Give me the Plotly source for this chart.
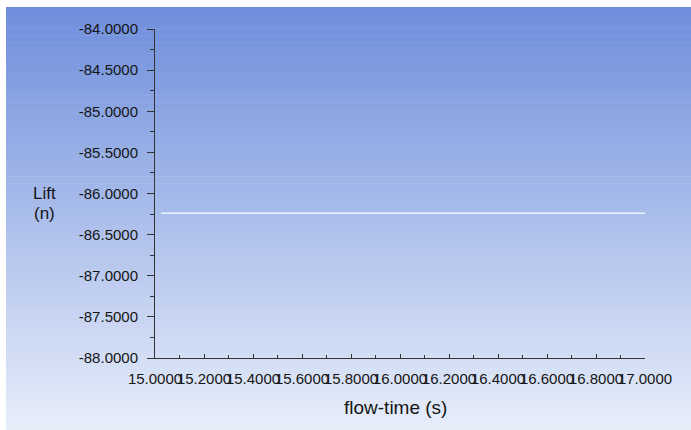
import plotly.graph_objects as go

# Data
flow_time = [15.025, 15.5, 16.0, 16.5, 17.0]
lift = [-86.24, -86.24, -86.24, -86.24, -86.24]
x_ticks = [15.0, 15.2, 15.4, 15.6, 15.8, 16.0, 16.2, 16.4, 16.6, 16.8, 17.0]
y_ticks = [-84.0, -84.5, -85.0, -85.5, -86.0, -86.5, -87.0, -87.5, -88.0]

W, H = 691, 430
L, R, T, B = 155, 46, 29, 72
pw, ph = W - L - R, H - T - B

def px2paper_x(p):
    return (p - L) / pw

def px2paper_y(p):
    return (H - B - p) / ph

# Gradient background (strips)
top = (110, 142, 220)
bot = (232, 238, 250)
y0p, y1p = 7, H
n = 120
shapes = []
for i in range(n):
    a = y0p + (y1p - y0p) * i / n
    b = y0p + (y1p - y0p) * (i + 1) / n + 0.6
    t = (i + 0.5) / n
    c = tuple(round(top[k] + (bot[k] - top[k]) * t) for k in range(3))
    shapes.append(dict(
        type="rect", xref="paper", yref="paper", layer="below",
        x0=px2paper_x(6), x1=px2paper_x(W + 2),
        y0=px2paper_y(min(b, H + 2)), y1=px2paper_y(a),
        fillcolor="rgb(%d,%d,%d)" % c, line=dict(width=0),
    ))

fig = go.Figure()
fig.add_trace(go.Scatter(
    x=flow_time, y=lift, mode="lines",
    line=dict(color="rgb(238,242,255)", width=1.5),
    showlegend=False, hoverinfo="skip",
))

font = dict(family="Liberation Sans, Arial, sans-serif", color="#151515")

fig.update_layout(
    width=W, height=H,
    margin=dict(l=L, r=R, t=T, b=B, pad=0),
    paper_bgcolor="white",
    plot_bgcolor="rgba(0,0,0,0)",
    shapes=shapes,
    font=dict(size=15, **font),
    showlegend=False,
    xaxis=dict(
        range=[14.99999, 17.00001],
        tickvals=x_ticks,
        ticktext=["%.4f" % v for v in x_ticks],
        tickangle=0,
        ticks="inside", ticklen=4, tickwidth=1, tickcolor="#333",
        showline=True, linecolor="#333", linewidth=1,
        showgrid=False, zeroline=False,
        minor=dict(dtick=0.1, tick0=15.0, ticks="inside", ticklen=3, tickcolor="#333", showgrid=False),
        tickfont=dict(size=15, **font),
        ticklabelstandoff=7,
        ticklabeloverflow="allow",
        fixedrange=True,
    ),
    yaxis=dict(
        range=[-88.0, -84.0],
        tickvals=y_ticks,
        ticktext=["%.4f" % v for v in y_ticks],
        ticks="outside", ticklen=7, tickwidth=1, tickcolor="#333",
        showline=True, linecolor="#333", linewidth=1,
        showgrid=False, zeroline=False,
        minor=dict(dtick=0.25, tick0=-88.0, ticks="outside", ticklen=4, tickcolor="#333", showgrid=False),
        tickfont=dict(size=15, **font),
        ticklabelstandoff=6,
        fixedrange=True,
    ),
    annotations=[
        dict(text="flow-time (s)", xref="paper", yref="paper",
             x=px2paper_x(395), y=px2paper_y(407), showarrow=False,
             xanchor="center", yanchor="middle", font=dict(size=19, **font)),
        dict(text="Lift", xref="paper", yref="paper",
             x=px2paper_x(44), y=px2paper_y(193), showarrow=False,
             xanchor="center", yanchor="middle",
             font=dict(size=17, **font)),
        dict(text="(n)", xref="paper", yref="paper",
             x=px2paper_x(44), y=px2paper_y(213), showarrow=False,
             xanchor="center", yanchor="middle",
             font=dict(size=17, **font)),
    ],
)

fig.write_html("out.html")
